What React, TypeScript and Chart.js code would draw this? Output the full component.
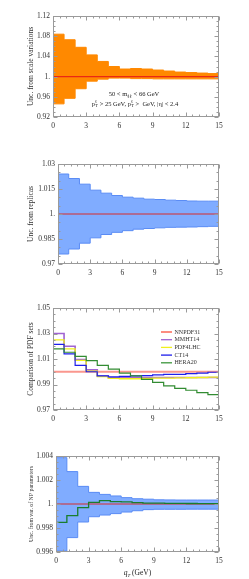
import React, { useEffect, useRef } from "react";
import { Chart, registerables } from "chart.js";
Chart.register(...registerables);

// ---------- data ----------
const binEdges = [0, 1, 2, 3, 4, 5, 6, 7, 8, 9, 10, 11, 12, 13, 14, 15];
const xTicks = [0, 3, 6, 9, 12, 15];
const xTickLabels = ["0", "3", "6", "9", "12", "15"];

const scaleUpper = [1.084, 1.073, 1.058, 1.043, 1.03, 1.02, 1.015, 1.016, 1.015, 1.013, 1.011, 1.009, 1.008, 1.007, 1.006];
const scaleLower = [0.946, 0.957, 0.976, 0.991, 0.995, 0.997, 0.997, 0.996, 0.996, 0.9955, 0.9955, 0.9955, 0.9955, 0.9955, 0.9955];
const scaleCentral = [1, 1, 1, 1, 1, 1, 1, 1, 1, 1, 1, 1, 1, 1, 1];
const p1YTicks = [0.92, 0.96, 1.0, 1.04, 1.08, 1.12];
const p1YTickLabels = ["0.92", "0.96", "1.", "1.04", "1.08", "1.12"];

const replicaUpper = [1.024, 1.0213, 1.0179, 1.0143, 1.0125, 1.0111, 1.0101, 1.0095, 1.0089, 1.0087, 1.0083, 1.0081, 1.0078, 1.0077, 1.0077];
const replicaLower = [0.976, 0.979, 0.9825, 0.9857, 0.9877, 0.989, 0.99, 0.9909, 0.9913, 0.9917, 0.992, 0.9921, 0.9922, 0.9924, 0.9926];
const replicaCentral = [1, 1, 1, 1, 1, 1, 1, 1, 1, 1, 1, 1, 1, 1, 1];
const p2YTicks = [0.97, 0.985, 1.0, 1.015, 1.03];
const p2YTickLabels = ["0.97", "0.985", "1.", "1.015", "1.03"];

const pdfSetNames = ["NNPDF31", "MMHT14", "PDF4LHC", "CT14", "HERA20"];
const nnpdf31 = [1, 1, 1, 1, 1, 1, 1, 1, 1, 1, 1, 1, 1, 1, 1];
const mmht14 = [1.03, 1.02, 1.0095, 1.0015, 0.9967, 0.9953, 0.9955, 0.9955, 0.9955, 0.9955, 0.9955, 0.9955, 0.9955, 0.9955, 0.9955];
const pdf4lhc = [1.025, 1.018, 1.009, 1.0005, 0.9962, 0.9948, 0.9945, 0.9945, 0.9948, 0.995, 0.995, 0.9952, 0.9953, 0.9955, 0.9958];
const ct14 = [1.0215, 1.014, 1.005, 1.0, 0.9967, 0.996, 0.9964, 0.9967, 0.997, 0.9975, 0.998, 0.998, 0.9985, 0.999, 0.9996];
const hera20 = [1.018, 1.0153, 1.012, 1.0087, 1.005, 1.002, 0.999, 0.9967, 0.994, 0.9916, 0.989, 0.987, 0.9855, 0.9836, 0.982];
const p3YTicks = [0.97, 0.99, 1.01, 1.03, 1.05];
const p3YTickLabels = ["0.97", "0.99", "1.01", "1.03", "1.05"];

const npUpper = [1.00386, 1.0027, 1.00147, 1.00097, 1.0008, 1.00067, 1.00053, 1.00044, 1.0004, 1.00035, 1.00034, 1.00033, 1.00033, 1.00033, 1.00033];
const npLower = [0.99608, 0.9972, 0.9985, 0.99894, 0.99908, 0.9992, 0.99933, 0.99944, 0.99953, 0.99956, 0.99956, 0.99956, 0.99957, 0.99957, 0.99957];
const npCentral = [1, 1, 1, 1, 1, 1, 1, 1, 1, 1, 1, 1, 1, 1, 1];
const npVariant = [0.99847, 0.99903, 0.9997, 1.00014, 1.00028, 1.0002, 1.00017, 1.00011, 1.00008, 1.00007, 1.00006, 1.00005, 1.00004, 1.00003, 1.00003];
const p4YTicks = [0.996, 0.998, 1.0, 1.002, 1.004];
const p4YTickLabels = ["0.996", "0.998", "1.", "1.002", "1.004"];

// ---------- helpers ----------
const SERIF = "'Liberation Serif', 'DejaVu Serif', serif";

function stepPoints(values: number[]) {
  return binEdges.map((x, i) => ({ x, y: values[Math.min(i, values.length - 1)] }));
}

function lineDs(values: number[], color: string, width: number, extra: any = {}) {
  return {
    data: stepPoints(values),
    borderColor: color,
    borderWidth: width,
    pointRadius: 0,
    stepped: true,
    fill: false,
    ...extra,
  };
}

type Seg = { t: string; dy?: number; size?: number; italic?: boolean; dx?: number };

function drawSegs(ctx: CanvasRenderingContext2D, segs: Seg[], cx: number, cy: number, base: number) {
  const fontOf = (s: Seg) => `${s.italic ? "italic " : ""}${s.size ?? base}px ${SERIF}`;
  let total = 0;
  for (const s of segs) {
    ctx.font = fontOf(s);
    total += (s.dx ?? 0) + ctx.measureText(s.t).width;
  }
  let x = cx - total / 2;
  ctx.textAlign = "left";
  ctx.textBaseline = "alphabetic";
  for (const s of segs) {
    ctx.font = fontOf(s);
    x += s.dx ?? 0;
    ctx.fillText(s.t, x, cy + (s.dy ?? 0));
    x += ctx.measureText(s.t).width;
  }
}

const framePlugin = {
  id: "frame",
  afterDraw(chart: any, _args: any, opts: any) {
    const { ctx, chartArea: a, scales } = chart;
    const xs = scales.x, ys = scales.y;
    ctx.save();
    ctx.strokeStyle = "#9a9a9a";
    ctx.lineWidth = 1;
    const L = Math.round(a.left) + 0.5, R = Math.round(a.right) - 0.5;
    const T = Math.round(a.top) + 0.5, B = Math.round(a.bottom) - 0.5;
    ctx.strokeRect(L, T, R - L, B - T);
    ctx.beginPath();
    const nx = Math.round((xs.max - xs.min) / opts.xMinor);
    for (let i = 0; i <= nx; i++) {
      const v = xs.min + i * opts.xMinor;
      const major = xTicks.some((t) => Math.abs(t - v) < 1e-6);
      const len = major ? 4 : 2;
      const px = Math.round(xs.getPixelForValue(v)) + 0.5;
      ctx.moveTo(px, B); ctx.lineTo(px, B - len);
      ctx.moveTo(px, T); ctx.lineTo(px, T + len);
    }
    const ny = Math.round((ys.max - ys.min) / opts.yMinor);
    for (let i = 0; i <= ny; i++) {
      const v = ys.min + i * opts.yMinor;
      const major = opts.yMajor.some((t: number) => Math.abs(t - v) < opts.yMinor * 1e-3);
      const len = major ? 4 : 2;
      const py = Math.round(ys.getPixelForValue(v)) + 0.5;
      ctx.moveTo(L, py); ctx.lineTo(L + len, py);
      ctx.moveTo(R, py); ctx.lineTo(R - len, py);
    }
    ctx.stroke();

    ctx.fillStyle = "#333";
    ctx.font = `${opts.titleSize}px ${SERIF}`;
    ctx.translate(opts.titleX, (a.top + a.bottom) / 2);
    ctx.rotate(-Math.PI / 2);
    ctx.textAlign = "center";
    ctx.textBaseline = "middle";
    ctx.fillText(opts.title, 0, 0);
    ctx.restore();

    if (opts.extra) {
      ctx.save();
      opts.extra(ctx, a);
      ctx.restore();
    }
  },
};

function makeConfig(p: any) {
  return {
    type: "line",
    data: { datasets: p.datasets },
    plugins: [framePlugin],
    options: {
      animation: false,
      responsive: false,
      maintainAspectRatio: false,
      layout: { padding: { left: 0, right: 249 - 219, top: p.padTop, bottom: 0 } },
      plugins: {
        legend: { display: false },
        tooltip: { enabled: false },
        filler: { propagate: false },
        frame: {
          xMinor: 0.6,
          yMinor: p.yMinor,
          yMajor: p.yTicks,
          title: p.title,
          titleSize: p.titleSize,
          titleX: p.titleX,
          extra: p.extra,
        },
      },
      scales: {
        x: {
          type: "linear",
          min: 0,
          max: 15,
          grid: { display: false, drawTicks: false },
          border: { display: false },
          afterBuildTicks: (s: any) => { s.ticks = xTicks.map((v) => ({ value: v })); },
          afterFit: (s: any) => { s.height = p.xHeight; },
          ticks: {
            autoSkip: false,
            maxRotation: 0,
            padding: 5,
            color: "#333",
            font: { family: SERIF, size: 7.5 },
            callback: (_v: any, i: number) => xTickLabels[i],
          },
        },
        y: {
          type: "linear",
          min: p.yTicks[0],
          max: p.yTicks[p.yTicks.length - 1],
          grid: { display: false, drawTicks: false },
          border: { display: false },
          afterBuildTicks: (s: any) => { s.ticks = p.yTicks.map((v: number) => ({ value: v })); },
          afterFit: (s: any) => { s.width = p.left; },
          ticks: {
            autoSkip: false,
            padding: 3,
            color: "#333",
            font: { family: SERIF, size: 7.5 },
            callback: (_v: any, i: number) => p.yLabels[i],
          },
        },
      },
    },
  };
}

function Panel({ top, height, spec }: { top: number; height: number; spec: any }) {
  const ref = useRef<HTMLCanvasElement | null>(null);
  useEffect(() => {
    if (!ref.current) return;
    const chart = new Chart(ref.current, makeConfig(spec) as any);
    return () => chart.destroy();
  }, []);
  return (
    <div style={{ position: "absolute", left: 0, top, width: 249, height }}>
      <canvas ref={ref} width={249} height={height} style={{ width: 249, height, display: "block" }} />
    </div>
  );
}

const ORANGE = "rgb(255,137,0)";
const BLUE = "rgb(128,172,255)";
const BLUE_EDGE = "rgb(90,140,245)";

const spec1 = {
  padTop: 16,
  xHeight: 28,
  left: 53,
  yTicks: p1YTicks,
  yLabels: p1YTickLabels,
  yMinor: 0.01,
  title: "Unc. from scale variations",
  titleSize: 7.5,
  titleX: 31,
  datasets: [
    lineDs(scaleUpper, ORANGE, 1, { fill: "+1", backgroundColor: ORANGE, order: 3 }),
    lineDs(scaleLower, ORANGE, 1, { order: 2 }),
    lineDs(scaleCentral, "rgb(235,40,20)", 1.3, { order: 0 }),
  ],
  extra: (ctx: CanvasRenderingContext2D) => {
    ctx.fillStyle = "#222";
    drawSegs(ctx, [
      { t: "50 < m" },
      { t: "ℓℓ", size: 5, dy: 1.5 },
      { t: " < 66 GeV" },
    ], 134, 96, 6.5);
    drawSegs(ctx, [
      { t: "p" },
      { t: "ℓ", size: 4.5, dy: -3 },
      { t: "T", size: 4.5, dy: 1.5, dx: -2 },
      { t: " > 25 GeV, p" },
      { t: "ℓ", size: 4.5, dy: -3 },
      { t: "T", size: 4.5, dy: 1.5, dx: -2 },
      { t: " >  GeV, |η| < 2.4" },
    ], 135, 105.5, 6.5);
  },
};

const spec2 = {
  padTop: 19,
  xHeight: 21,
  left: 58,
  yTicks: p2YTicks,
  yLabels: p2YTickLabels,
  yMinor: 0.005,
  title: "Unc. from replicas",
  titleSize: 7.5,
  titleX: 31,
  datasets: [
    lineDs(replicaUpper, BLUE_EDGE, 1, { fill: "+1", backgroundColor: BLUE, order: 3 }),
    lineDs(replicaLower, BLUE_EDGE, 1, { order: 2 }),
    lineDs(replicaCentral, "rgb(215,45,45)", 1.1, { order: 0 }),
  ],
};

const legendColors = ["rgb(250,80,60)", "rgb(160,100,210)", "rgb(240,240,30)", "rgb(30,30,235)", "rgb(60,150,60)"];

const spec3 = {
  padTop: 23,
  xHeight: 20,
  left: 53,
  yTicks: p3YTicks,
  yLabels: p3YTickLabels,
  yMinor: 0.005,
  title: "Comparison of PDF sets",
  titleSize: 7.5,
  titleX: 31,
  datasets: [
    lineDs(nnpdf31, "rgba(250,140,130,0.9)", 2, { order: 5 }),
    lineDs(mmht14, "rgb(160,100,210)", 1.6, { order: 4 }),
    lineDs(pdf4lhc, "rgb(240,240,30)", 1.3, { order: 3 }),
    lineDs(ct14, "rgb(30,30,235)", 1.2, { order: 2 }),
    lineDs(hera20, "rgb(50,140,50)", 1.2, { order: 1 }),
  ],
  extra: (ctx: CanvasRenderingContext2D) => {
    ctx.font = `6px ${SERIF}`;
    ctx.textAlign = "left";
    ctx.textBaseline = "middle";
    pdfSetNames.forEach((name, i) => {
      const y = 332 - 285 + i * 7.7;
      ctx.strokeStyle = legendColors[i];
      ctx.lineWidth = 1.3;
      ctx.beginPath();
      ctx.moveTo(161, y);
      ctx.lineTo(172, y);
      ctx.stroke();
      ctx.fillStyle = "#333";
      ctx.fillText(name, 174.5, y);
    });
  },
};

const spec4 = {
  padTop: 26,
  xHeight: 27,
  left: 56,
  yTicks: p4YTicks,
  yLabels: p4YTickLabels,
  yMinor: 0.0005,
  title: "Unc. from var. of NP parameters",
  titleSize: 5.8,
  titleX: 31,
  datasets: [
    lineDs(npUpper, BLUE_EDGE, 1, { fill: "+1", backgroundColor: BLUE, order: 4 }),
    lineDs(npLower, BLUE_EDGE, 1, { order: 3 }),
    lineDs(npCentral, "rgb(215,45,45)", 1.1, { order: 1 }),
    lineDs(npVariant, "rgb(25,125,45)", 1.3, { order: 0 }),
  ],
  extra: (ctx: CanvasRenderingContext2D, a: any) => {
    ctx.fillStyle = "#222";
    drawSegs(ctx, [
      { t: "q", italic: true },
      { t: "T", size: 5, dy: 1.5, italic: true },
      { t: " (GeV)" },
    ], (a.left + a.right) / 2, 575 - 430, 7.5);
  },
};

export default function App() {
  return (
    <div style={{ position: "absolute", left: 0, top: 0, width: 249, height: 579, background: "#fff" }}>
      <Panel top={0} height={145} spec={spec1} />
      <Panel top={145} height={140} spec={spec2} />
      <Panel top={285} height={145} spec={spec3} />
      <Panel top={430} height={149} spec={spec4} />
    </div>
  );
}
